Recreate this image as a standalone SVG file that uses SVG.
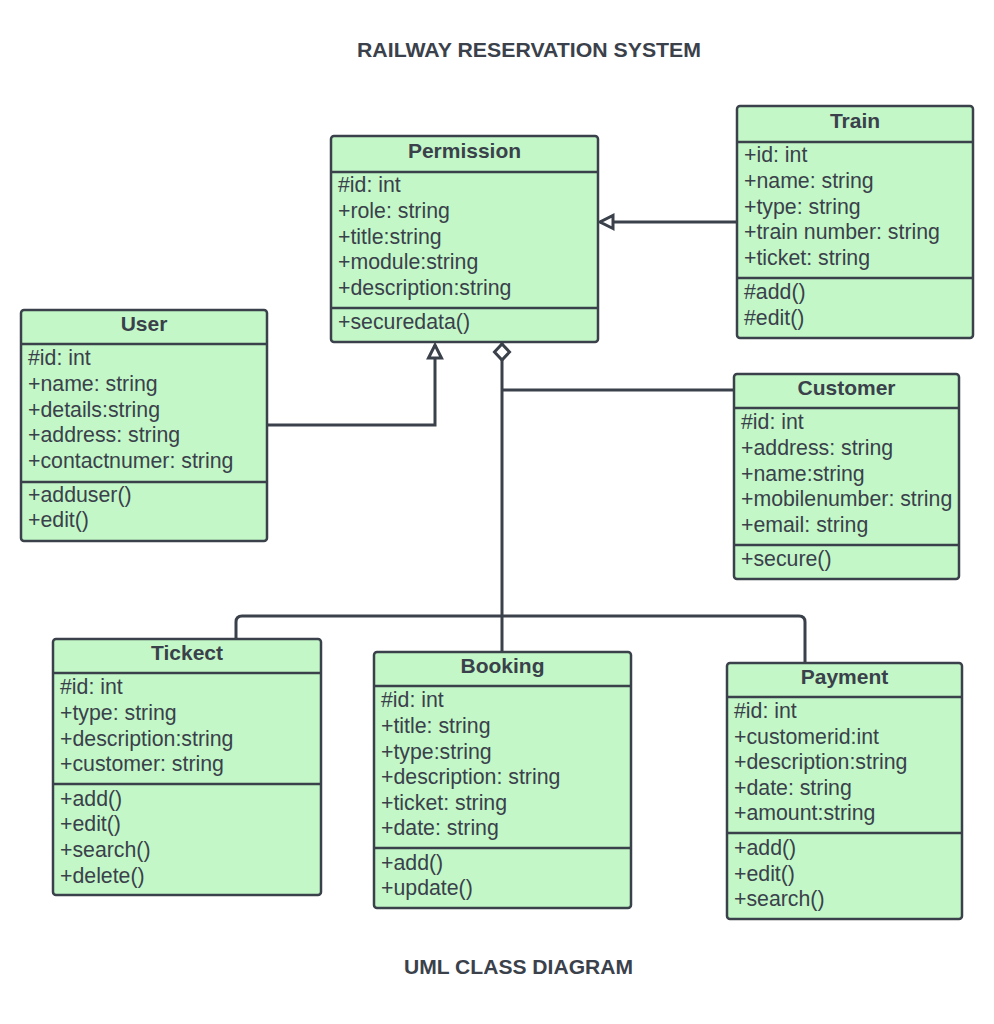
<svg xmlns="http://www.w3.org/2000/svg" width="994" height="1024" viewBox="0 0 994 1024">
<defs>
<style>
.box{fill:#c3f7c8;stroke:#3a414a;stroke-width:2.5}
.div{stroke:#3a414a;stroke-width:2.5;fill:none}
.t{font-family:"Liberation Sans",Arial,sans-serif;font-size:21.3px;fill:#3a414a}
.h{font-family:"Liberation Sans",Arial,sans-serif;font-size:21px;font-weight:bold;fill:#3a414a;text-anchor:middle}
.cap{font-family:"Liberation Sans",Arial,sans-serif;font-size:21px;font-weight:bold;fill:#3a414a;text-anchor:middle}
.c{fill:none;stroke:#3a414a;stroke-width:3}
</style>
<marker id="tri" markerUnits="userSpaceOnUse" markerWidth="18" markerHeight="18" refX="14" refY="7" orient="auto" overflow="visible">
<path d="M1,0.5 L14,7 L1,13.5 z" fill="#fff" stroke="#3a414a" stroke-width="3" stroke-linejoin="miter"/>
</marker>
<marker id="dia" markerUnits="userSpaceOnUse" markerWidth="20" markerHeight="20" refX="0" refY="9" orient="auto" overflow="visible">
<path d="M1,9 L9,1.5 L17,9 L9,16.5 z" fill="#fff" stroke="#3a414a" stroke-width="3"/>
</marker>
</defs>
<rect width="994" height="1024" fill="#fff"/>
<text class="cap" x="529" y="57" textLength="344" lengthAdjust="spacingAndGlyphs">RAILWAY RESERVATION SYSTEM</text>
<text class="cap" x="518.5" y="974" textLength="229" lengthAdjust="spacingAndGlyphs">UML CLASS DIAGRAM</text>

<g id="connectors">
<path class="c" d="M737,222 H600" marker-end="url(#tri)"/>
<path class="c" d="M267,425 H435 V345" marker-end="url(#tri)"/>
<path class="c" d="M502,343 V652" marker-start="url(#dia)"/>
<path class="c" d="M502,390 H734"/>
<path class="c" d="M236,639 V622 Q236,616 242,616 H799 Q805,616 805,622 V663"/>
</g>

<g id="permission">
<rect class="box" x="331" y="136" width="267" height="206" rx="3"/>
<path class="div" d="M331,172 H598 M331,308 H598"/>
<text class="h" x="464.5" y="158">Permission</text>
<text class="t" x="338" y="192">#id: int</text>
<text class="t" x="338" y="218">+role: string</text>
<text class="t" x="338" y="244">+title:string</text>
<text class="t" x="338" y="269">+module:string</text>
<text class="t" x="338" y="295">+description:string</text>
<text class="t" x="338" y="329">+securedata()</text>
</g>

<g id="train">
<rect class="box" x="737" y="106" width="236" height="232" rx="3"/>
<path class="div" d="M737,142 H973 M737,278 H973"/>
<text class="h" x="855" y="128">Train</text>
<text class="t" x="744" y="162">+id: int</text>
<text class="t" x="744" y="188">+name: string</text>
<text class="t" x="744" y="214">+type: string</text>
<text class="t" x="744" y="239">+train number: string</text>
<text class="t" x="744" y="265">+ticket: string</text>
<text class="t" x="744" y="299">#add()</text>
<text class="t" x="744" y="325">#edit()</text>
</g>

<g id="user">
<rect class="box" x="21" y="310" width="246" height="231" rx="3"/>
<path class="div" d="M21,344 H267 M21,482 H267"/>
<text class="h" x="144" y="331">User</text>
<text class="t" x="28" y="365">#id: int</text>
<text class="t" x="28" y="391">+name: string</text>
<text class="t" x="28" y="417">+details:string</text>
<text class="t" x="28" y="442">+address: string</text>
<text class="t" x="28" y="468">+contactnumer: string</text>
<text class="t" x="28" y="502">+adduser()</text>
<text class="t" x="28" y="527">+edit()</text>
</g>

<g id="customer">
<rect class="box" x="734" y="374" width="225" height="205" rx="3"/>
<path class="div" d="M734,408 H959 M734,545 H959"/>
<text class="h" x="846.5" y="395">Customer</text>
<text class="t" x="741" y="429">#id: int</text>
<text class="t" x="741" y="455">+address: string</text>
<text class="t" x="741" y="481">+name:string</text>
<text class="t" x="741" y="506">+mobilenumber: string</text>
<text class="t" x="741" y="532">+email: string</text>
<text class="t" x="741" y="566">+secure()</text>
</g>

<g id="tickect">
<rect class="box" x="53" y="639" width="268" height="256" rx="3"/>
<path class="div" d="M53,673 H321 M53,784 H321"/>
<text class="h" x="187" y="660">Tickect</text>
<text class="t" x="60" y="694">#id: int</text>
<text class="t" x="60" y="720">+type: string</text>
<text class="t" x="60" y="746">+description:string</text>
<text class="t" x="60" y="771">+customer: string</text>
<text class="t" x="60" y="806">+add()</text>
<text class="t" x="60" y="831">+edit()</text>
<text class="t" x="60" y="857">+search()</text>
<text class="t" x="60" y="883">+delete()</text>
</g>

<g id="booking">
<rect class="box" x="374" y="652" width="257" height="256" rx="3"/>
<path class="div" d="M374,686 H631 M374,848 H631"/>
<text class="h" x="502.5" y="673">Booking</text>
<text class="t" x="381" y="707">#id: int</text>
<text class="t" x="381" y="733">+title: string</text>
<text class="t" x="381" y="759">+type:string</text>
<text class="t" x="381" y="784">+description: string</text>
<text class="t" x="381" y="810">+ticket: string</text>
<text class="t" x="381" y="835">+date: string</text>
<text class="t" x="381" y="870">+add()</text>
<text class="t" x="381" y="895">+update()</text>
</g>

<g id="payment">
<rect class="box" x="727" y="663" width="235" height="256" rx="3"/>
<path class="div" d="M727,697 H962 M727,833 H962"/>
<text class="h" x="844.5" y="684">Payment</text>
<text class="t" x="734" y="718">#id: int</text>
<text class="t" x="734" y="744">+customerid:int</text>
<text class="t" x="734" y="769">+description:string</text>
<text class="t" x="734" y="795">+date: string</text>
<text class="t" x="734" y="820">+amount:string</text>
<text class="t" x="734" y="855">+add()</text>
<text class="t" x="734" y="881">+edit()</text>
<text class="t" x="734" y="906">+search()</text>
</g>
</svg>
